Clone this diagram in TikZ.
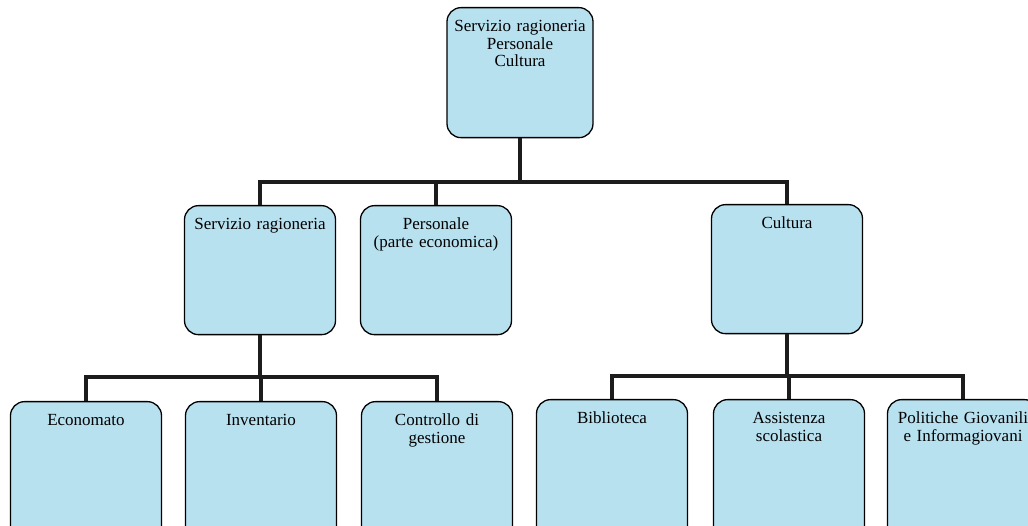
\documentclass[tikz,border=0pt]{standalone}
\usepackage{fontspec}
\setmainfont{Liberation Serif}
\definecolor{boxblue}{RGB}{184,225,240}
\definecolor{linkgray}{RGB}{28,28,28}
\tikzset{
	unitbox/.style={draw=black, line width=1.3pt, fill=boxblue, rounded corners=14pt,
		text width=145pt, anchor=north, align=center, inner xsep=3pt, inner ysep=10pt,
		text height=14pt, font=\fontsize{17}{17.5}\selectfont},
	midbox/.style={unitbox, text depth=95pt},
	lowbox/.style={unitbox, text depth=106pt},
	link/.style={line width=4.5pt, draw=linkgray}
}
\begin{document}
\begin{tikzpicture}[x=1pt,y=-1pt]
	\useasboundingbox (0,0) rectangle (1028,526);
	% top
	\node[unitbox, text width=140pt, text depth=96pt] (capo) at (520,7) {Servizio ragioneria\\Personale\\Cultura};
	% second level
	\node[midbox] (rag) at (260,205) {Servizio ragioneria};
	\node[midbox] (pers) at (436,205) {Personale\\(parte economica)};
	\node[midbox] (cult) at (787,204) {Cultura};
	% third level
	\node[lowbox] (econ) at (86,401) {Economato};
	\node[lowbox] (inv) at (261,401) {Inventario};
	\node[lowbox] (contr) at (437,401) {Controllo di\\gestione};
	\node[lowbox] (bibl) at (612,399) {Biblioteca};
	\node[lowbox] (assist) at (789,399) {Assistenza\\scolastica};
	\node[lowbox] (giov) at (963,399) {Politiche Giovanili\\e Informagiovani};
	% connectors
	\coordinate (topbar) at (520,182);
	\coordinate (ragbar) at (260,377);
	\coordinate (cultbar) at (787,376);
	\draw[link] (capo.south) -- (capo.south |- topbar);
	\draw[link] (rag.north) |- (topbar) -| (cult.north);
	\draw[link] (pers.north) -- (pers.north |- topbar);
	\draw[link] (rag.south) -- (rag.south |- ragbar);
	\draw[link] (econ.north) |- (ragbar) -| (contr.north);
	\draw[link] (inv.north) -- (inv.north |- ragbar);
	\draw[link] (cult.south) -- (cult.south |- cultbar);
	\draw[link] (bibl.north) |- (cultbar) -| (giov.north);
	\draw[link] (assist.north) -- (assist.north |- cultbar);
\end{tikzpicture}
\end{document}
